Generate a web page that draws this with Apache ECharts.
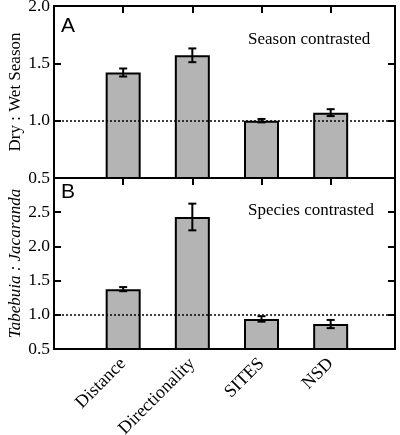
<!DOCTYPE html>
<html>
<head>
<meta charset="utf-8">
<script src="https://cdn.jsdelivr.net/npm/echarts@6/dist/echarts.min.js"></script>
<style>
html,body{margin:0;padding:0;background:#fff;}
#chart{width:400px;height:435px;}
</style>
</head>
<body>
<div id="chart"></div>
<script>
const categories = ['Distance', 'Directionality', 'SITES', 'NSD'];
const seasonRatio = [1.42, 1.57, 1.00, 1.07];
const seasonErr = [0.035, 0.06, 0.015, 0.03];
const speciesRatio = [1.375, 2.43, 0.94, 0.865];
const speciesErr = [0.03, 0.195, 0.04, 0.06];
const yRangeA = [0.5, 2.0];
const yRangeB = [0.5, 3.0];
const referenceLevel = 1.0;
const panelLetters = ['A', 'B'];
const panelNotes = ['Season contrasted', 'Species contrasted'];
const yTitles = ['Dry : Wet Season', 'Tabebuia : Jacaranda'];

const serif = '"Liberation Serif", "Times New Roman", serif';
const xs = categories.map((c, i) => i + 1);

function barData(vals) { return vals.map((v, i) => [xs[i], v]); }
function errData(vals, errs) { return vals.map((v, i) => [xs[i], v - errs[i], v + errs[i]]); }

function errRender(params, api) {
  const x = api.value(0);
  const lo = api.coord([x, api.value(1)]);
  const hi = api.coord([x, api.value(2)]);
  const hw = 4;
  const st = { stroke: '#000', lineWidth: 2 };
  return {
    type: 'group',
    children: [
      { type: 'line', shape: { x1: lo[0], y1: lo[1], x2: hi[0], y2: hi[1] }, style: st },
      { type: 'line', shape: { x1: lo[0] - hw, y1: lo[1], x2: lo[0] + hw, y2: lo[1] }, style: st },
      { type: 'line', shape: { x1: hi[0] - hw, y1: hi[1], x2: hi[0] + hw, y2: hi[1] }, style: st }
    ]
  };
}

const axisLine = { show: true, onZero: false, lineStyle: { color: '#000', width: 2 } };
const xMax = 4.93;

function bottomX(gi, showLabels) {
  return {
    type: 'value', gridIndex: gi, min: 0, max: xMax, interval: 1, position: 'bottom',
    axisLine: axisLine, axisTick: { show: false }, splitLine: { show: false },
    axisLabel: showLabels ? {
      show: true, rotate: 45, margin: 12, fontFamily: serif, fontSize: 18, color: '#000',
      showMaxLabel: false,
      formatter: v => (Number.isInteger(v) && v >= 1 && v <= categories.length) ? categories[v - 1] : ''
    } : { show: false }
  };
}
function topX(gi) {
  return {
    type: 'value', gridIndex: gi, min: 0, max: xMax, interval: 1, position: 'top',
    axisLine: axisLine, axisTick: { show: true, inside: true, length: 7, lineStyle: { color: '#000', width: 2 } },
    splitLine: { show: false }, axisLabel: { show: false }
  };
}
function leftY(gi, range, title, italic) {
  return {
    type: 'value', gridIndex: gi, min: range[0], max: range[1], interval: 0.5, position: 'left',
    axisLine: axisLine,
    axisTick: { show: true, inside: true, length: 7, lineStyle: { color: '#000', width: 2 } },
    splitLine: { show: false },
    axisLabel: { show: true, margin: 4, fontFamily: serif, fontSize: 17.5, color: '#000',
      showMaxLabel: gi === 0, formatter: v => v.toFixed(1) },
    name: title, nameLocation: 'middle', nameGap: 30, nameMoveOverlap: false,
    nameTextStyle: { fontFamily: serif, fontSize: 17, color: '#000', fontStyle: italic ? 'italic' : 'normal' }
  };
}
function rightY(gi, range) {
  return {
    type: 'value', gridIndex: gi, min: range[0], max: range[1], interval: 0.5, position: 'right',
    axisLine: axisLine,
    axisTick: { show: true, inside: true, length: 7, lineStyle: { color: '#000', width: 2 } },
    splitLine: { show: false }, axisLabel: { show: false }
  };
}

function barSeries(xi, yi, vals) {
  return {
    type: 'bar', xAxisIndex: xi, yAxisIndex: yi, data: barData(vals), barWidth: 35,
    itemStyle: { color: '#b4b4b4', borderColor: '#000', borderWidth: 2 },
    silent: true, animation: false,
    markLine: {
      silent: true, symbol: 'none', animation: false, label: { show: false },
      lineStyle: { color: '#000', width: 1.5, type: [2, 2] },
      data: [{ yAxis: referenceLevel }]
    }
  };
}
function errSeries(xi, yi, vals, errs) {
  return {
    type: 'custom', xAxisIndex: xi, yAxisIndex: yi, data: errData(vals, errs),
    renderItem: errRender, encode: { x: 0, y: [1, 2] }, z: 5, silent: true, animation: false
  };
}

const chart = echarts.init(document.getElementById('chart'), null, { renderer: 'canvas' });
chart.setOption({
  animation: false,
  backgroundColor: '#fff',
  grid: [
    { left: 54, right: 5, top: 6, height: 172, containLabel: false, outerBoundsMode: 'none' },
    { left: 54, right: 5, top: 178, height: 171, containLabel: false, outerBoundsMode: 'none' }
  ],
  xAxis: [bottomX(0, false), topX(0), bottomX(1, true), topX(1)],
  yAxis: [leftY(0, yRangeA, yTitles[0], false), rightY(0, yRangeA),
          leftY(1, yRangeB, yTitles[1], true), rightY(1, yRangeB)],
  series: [
    barSeries(0, 0, seasonRatio),
    errSeries(0, 0, seasonRatio, seasonErr),
    barSeries(2, 2, speciesRatio),
    errSeries(2, 2, speciesRatio, speciesErr)
  ],
  graphic: [
    { type: 'text', left: 61, top: 16, style: { text: panelLetters[0], font: '21px "Liberation Sans", Arial, sans-serif', fill: '#000' } },
    { type: 'text', left: 61, top: 182, style: { text: panelLetters[1], font: '21px "Liberation Sans", Arial, sans-serif', fill: '#000' } },
    { type: 'text', left: 248, top: 31, style: { text: panelNotes[0], font: '17px ' + serif, fill: '#000' } },
    { type: 'text', left: 248, top: 202, style: { text: panelNotes[1], font: '17px ' + serif, fill: '#000' } }
  ]
});
</script>
</body>
</html>
